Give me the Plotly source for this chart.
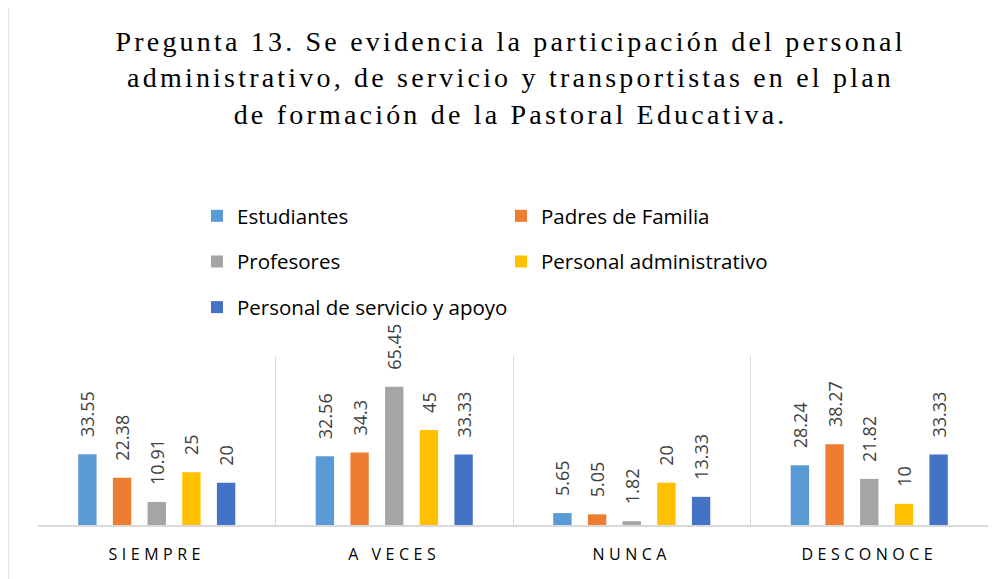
import plotly.graph_objects as go

categories = ["SIEMPRE", "A VECES", "NUNCA", "DESCONOCE"]
series_names = ["Estudiantes", "Padres de Familia", "Profesores",
                "Personal administrativo", "Personal de servicio y apoyo"]
estudiantes = [33.55, 32.56, 5.65, 28.24]
padres = [22.38, 34.3, 5.05, 38.27]
profesores = [10.91, 65.45, 1.82, 21.82]
administrativo = [25, 45, 20, 10]
servicio = [20, 33.33, 13.33, 33.33]
colors = ["#5B9BD5", "#ED7D31", "#A5A5A5", "#FFC000", "#4472C4"]
values = [estudiantes, padres, profesores, administrativo, servicio]
legend_ids = ["legend", "legend2", "legend", "legend2", "legend"]

title_text = ("Pregunta 13. Se evidencia la participación del personal<br>"
              "administrativo, de servicio y transportistas en el plan<br>"
              "de formación de la Pastoral Educativa.")

FONT = "'Open Sans', Lato, sans-serif"
LABEL_PAD = "\u00a0\u00a0\u00a0"  # gap between bar top and its rotated value label

# displayed plot area in pixels: x 38..988, y 356..525
def px_x(x):
    return (x - 38) / 950


def px_y(y):
    return (525 - y) / 169


fig = go.Figure()
for i, (name, vals) in enumerate(zip(series_names, values)):
    fig.add_trace(go.Bar(
        x=categories, y=vals, name=name,
        marker=dict(color=colors[i], line=dict(width=0)),
        text=[f"{LABEL_PAD}{v:g}" for v in vals],
        textposition="outside", textangle=-90,
        constraintext="none",
        textfont=dict(family=FONT, size=18, color="#404040"),
        cliponaxis=False,
        legend=legend_ids[i], legendgroup=name,
    ))

tick_text = [f'<span style="letter-spacing:4.5px">{c}</span>' for c in categories]

fig.update_layout(
    width=1008, height=579,
    margin=dict(l=30, r=28, t=348, b=62, autoexpand=False),
    paper_bgcolor="white", plot_bgcolor="white",
    barmode="group", bargap=0.27, bargroupgap=0.47,
    title=dict(
        text=f'<span style="letter-spacing:3.2px">{title_text}</span>',
        font=dict(family="'Liberation Serif', 'Times New Roman', serif", size=28, color="#000000"),
        x=0.4986, xanchor="center", xref="container",
        y=1 - 43 / 579, yanchor="middle", yref="container",
    ),
    font=dict(family=FONT, color="#000000"),
    legend=dict(
        x=px_x(197), xanchor="left", y=px_y(196), yanchor="top",
        orientation="v", tracegroupgap=16,
        font=dict(family=FONT, size=20.5, color="#000000"),
        bgcolor="rgba(0,0,0,0)",
    ),
    legend2=dict(
        x=px_x(501), xanchor="left", y=px_y(196), yanchor="top",
        orientation="v", tracegroupgap=16,
        font=dict(family=FONT, size=20.5, color="#000000"),
        bgcolor="rgba(0,0,0,0)",
    ),
    xaxis=dict(
        tickmode="array", tickvals=categories, ticktext=tick_text,
        tickfont=dict(family=FONT, size=16, color="#000000"),
        tickson="boundaries", ticks="",
        showgrid=True, gridcolor="#D9D9D9", gridwidth=1.3,
        showline=True, linecolor="#D9D9D9", linewidth=1.5,
        ticklabelstandoff=14,
    ),
    yaxis=dict(range=[0, 80], visible=False, showgrid=False, zeroline=False),
    showlegend=True,
)

# outer chart frame (extends beyond the visible picture on the right/bottom)
fig.add_shape(type="rect", xref="paper", yref="paper",
              x0=px_x(8), x1=1.1, y0=-0.6, y1=px_y(6),
              line=dict(color="#D9D9D9", width=1.5), fillcolor="rgba(0,0,0,0)",
              layer="below")

fig.write_html("out.html")
